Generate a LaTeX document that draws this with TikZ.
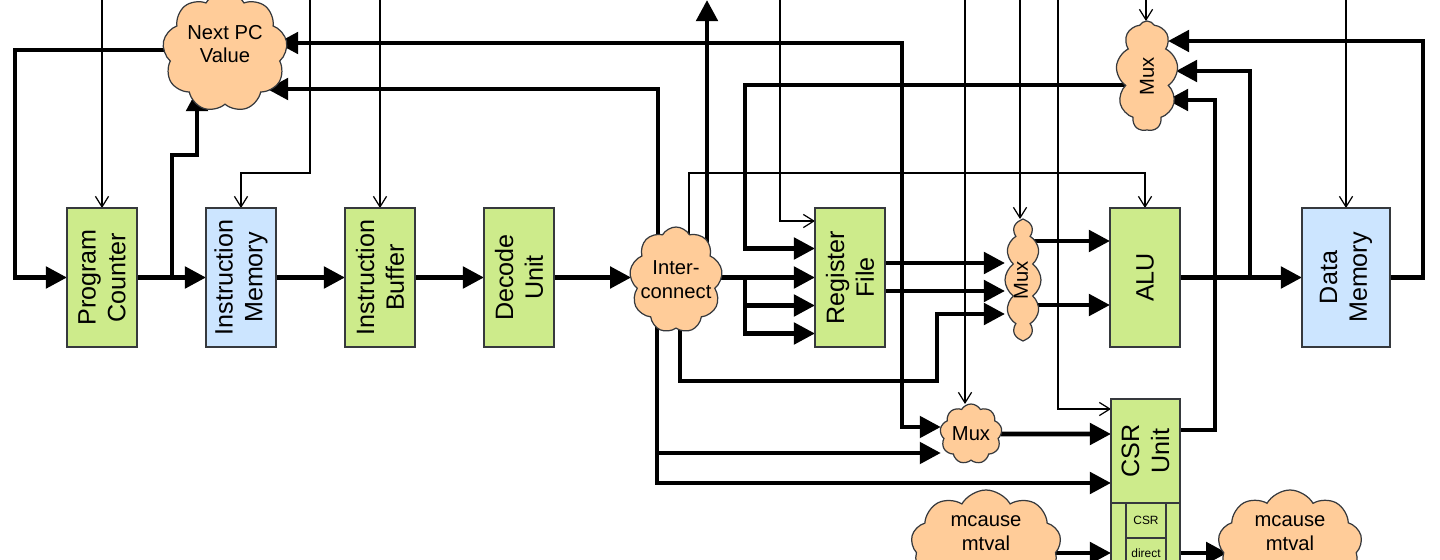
\documentclass[tikz,border=0pt]{standalone}
\usepackage{fontspec}
\setmainfont{Liberation Sans}
\usetikzlibrary{arrows.meta, shapes.symbols, calc, backgrounds}

\definecolor{unitgreen}{HTML}{CDEB8B}
\definecolor{memblue}{HTML}{CCE5FF}
\definecolor{cloudorange}{HTML}{FFCC99}
\definecolor{outline}{HTML}{36393D}

\begin{document}
\begin{tikzpicture}
    [x=0.02cm, y=-0.02cm,
     unit/.style={draw=outline, fill=unitgreen, line width=0.7pt, inner sep=0pt, outer sep=0pt,
                  minimum width=1.4cm, minimum height=2.78cm},
     mem/.style={unit, fill=memblue},
     blob/.style={cloud, cloud puffs=9, cloud puff arc=120, cloud ignores aspect, draw=outline,
                  fill=cloudorange, line width=0.7pt, inner sep=0pt, outer sep=0pt},
     vtext/.style={label={[rotate=90, align=center, font=\fontsize{14.3}{17}\selectfont]center:#1}},
     cfont/.style={align=center, font=\fontsize{11.5}{13.5}\selectfont},
     bus/.style={line width=2.7pt, -{Triangle[length=12pt, width=12pt]}},
     ctl/.style={line width=0.7pt, -{Straight Barb[length=6pt, width=7.5pt]}}]
    \useasboundingbox (0,0) rectangle (1440,560);

    % units
    \node[unit, vtext={Program\\Counter}] (pc) at (102,277.5) {};
    \node[mem, vtext={Instruction\\Memory}] (im) at (241,277.5) {};
    \node[unit, vtext={Instruction\\Buffer}] (ib) at (380,277.5) {};
    \node[unit, vtext={Decode\\Unit}] (dec) at (519,277.5) {};
    \node[unit, vtext={Register\\File}] (rf) at (850,277.5) {};
    \node[unit, vtext={ALU}] (alu) at (1145,277.5) {};
    \node[mem, minimum width=1.76cm, vtext={Data\\Memory}] (dm) at (1346,277.5) {};
    \node[unit, minimum width=1.38cm, minimum height=2.08cm, vtext={CSR\\Unit}] (csr) at (1145.5,451) {};
    \node[unit, minimum width=1.38cm, minimum height=1.94cm] (csrlow) at (1145.5,551.5) {};
    \node[unit, minimum width=0.8cm, minimum height=0.7cm, font=\fontsize{6.8}{8}\selectfont] (csrreg) at (1146,520.5) {CSR};
    \node[unit, minimum width=0.8cm, minimum height=0.6cm, font=\fontsize{6.8}{8}\selectfont] (csrdir) at (1146,553) {direct};

    % clouds
    \node[blob, minimum width=2.5cm, minimum height=2.4cm, label={[cfont, yshift=0.16cm]center:Next PC\\Value}] (npc) at (225,52) {};
    \node[blob, minimum width=1.86cm, minimum height=2.12cm, label={[cfont]center:Inter-\\connect}] (ic) at (676,280) {};
    \node[blob, minimum width=1.24cm, minimum height=2.2cm, label={[cfont, rotate=90]center:Mux}] (muxt) at (1147,76) {};
    \node[blob, cloud puffs=12, cloud puff arc=110, minimum width=0.72cm, minimum height=2.44cm, label={[cfont, rotate=90, yshift=0.04cm]center:Mux}] (muxm) at (1023,280) {};
    \node[blob, minimum width=1.24cm, minimum height=1.2cm, label={[cfont]center:Mux}] (muxl) at (971,434) {};
    \node[blob, minimum width=3cm, minimum height=2.2cm, label={[cfont, yshift=0.24cm]center:mcause\\mtval}] (mcl) at (986,545) {};
    \node[blob, minimum width=2.88cm, minimum height=2.2cm, label={[cfont, yshift=0.24cm]center:mcause\\mtval}] (mcr) at (1290,545) {};

    \coordinate (pcsel) at (102,0);
    \coordinate (imsel) at (310,0);
    \coordinate (ibsel) at (380,0);
    \coordinate (rfsel) at (780,0);
    \coordinate (muxlsel) at (965,0);
    \coordinate (muxmsel) at (1020,0);
    \coordinate (csrsel) at (1058,0);
    \coordinate (muxtsel) at (1146,0);
    \coordinate (dmsel) at (1346,0);
    \coordinate (busout) at (707,0);
    \coordinate (rs1) at (902,263);

    \begin{scope}[on background layer]
    % control lines
    \draw[ctl] (pcsel) -- (pc.north);
    \draw[ctl] (imsel) |- (im.north |- 0,173) -- (im.north);
    \draw[ctl] (ibsel) -- (ib.north);
    \draw[ctl] (rfsel) |- ($(rf.north west)+(0,13)$);
    \draw[ctl] (ic.center -| 689,0) |- (alu.north |- 0,173) -- (alu.north);
    \draw[ctl] (muxlsel) -- (muxlsel |- muxl.north);
    \draw[ctl] (muxmsel) -- (muxmsel |- muxm.north);
    \draw[ctl] (csrsel) |- ($(csr.north west)+(0,10)$);
    \draw[ctl] (muxtsel) -- (muxtsel |- muxt.north);
    \draw[ctl] (dmsel) -- (dm.north);

    % data paths
    \draw[bus] (npc.center |- 0,50) -| (15,277.5) -- (pc.west);
    \draw[bus] (pc) -- (im);
    \draw[bus] (pc.east -| 172,0) |- (197,155) -- ($(npc.center)+(-28,38)$);
    \draw[bus] (im) -- (ib);
    \draw[bus] (ib) -- (dec);
    \draw[bus] (dec) -- (dec -| ic.west);
    \draw[bus] (ic.center -| 658,0) |- ($(npc.center)+(42,37)$);
    \draw[bus] (ic.center -| busout) -- (busout);
    \draw[bus] (ic.center |- rf.west) -- (rf.west);
    \draw[bus] (rf.west -| 745,0) |- ($(rf.west)+(0,28)$);
    \draw[bus] (rf.west -| 745,0) |- ($(rf.west)+(0,56)$);
    \draw[bus] (muxt.center |- 0,85) -- (745,85) |- ($(rf.west)+(0,-29)$);
    \draw[bus] (rf.east |- rs1) -- (muxm.west |- rs1);
    \draw[bus] (rf.east |- 0,291) -- (muxm.west |- 0,291);
    \draw[bus] (rs1) |- ($(npc.center)+(52,-9)$);
    \draw[bus] (rs1) |- (muxl.west |- 0,427);
    \draw[bus] (ic.center -| 680,0) |- (937,381) |- (muxm.west |- 0,314);
    \draw[bus] (muxm.center |- 0,241) -- (alu.west |- 0,241);
    \draw[bus] (muxm.center |- 0,305) -- (alu.west |- 0,305);
    \draw[bus] (alu) -- (dm);
    \draw[bus] (alu.east -| 1250,0) |- (muxt.east |- 0,71);
    \draw[bus] (dm.east) -| (1423,41) -- ($(muxt.center)+(21,-35)$);
    \draw[bus] (csr.east |- 0,430) -| (1215,100) -- ($(muxt.center)+(20,24)$);
    \draw[bus] (muxl) -- (muxl -| csr.west);
    \draw[bus] (ic.center -| 657,0) |- (muxl.west |- 0,453);
    \draw[bus] (ic.center -| 657,0) |- (csr.west |- 0,483);
    \draw[bus] (mcl.center |- 0,553) -- (csrlow.west |- 0,553);
    \draw[bus] (csrlow.east |- 0,553) -- ($(mcr.west |- 0,553)+(8,0)$);
    \end{scope}
\end{tikzpicture}
\end{document}
